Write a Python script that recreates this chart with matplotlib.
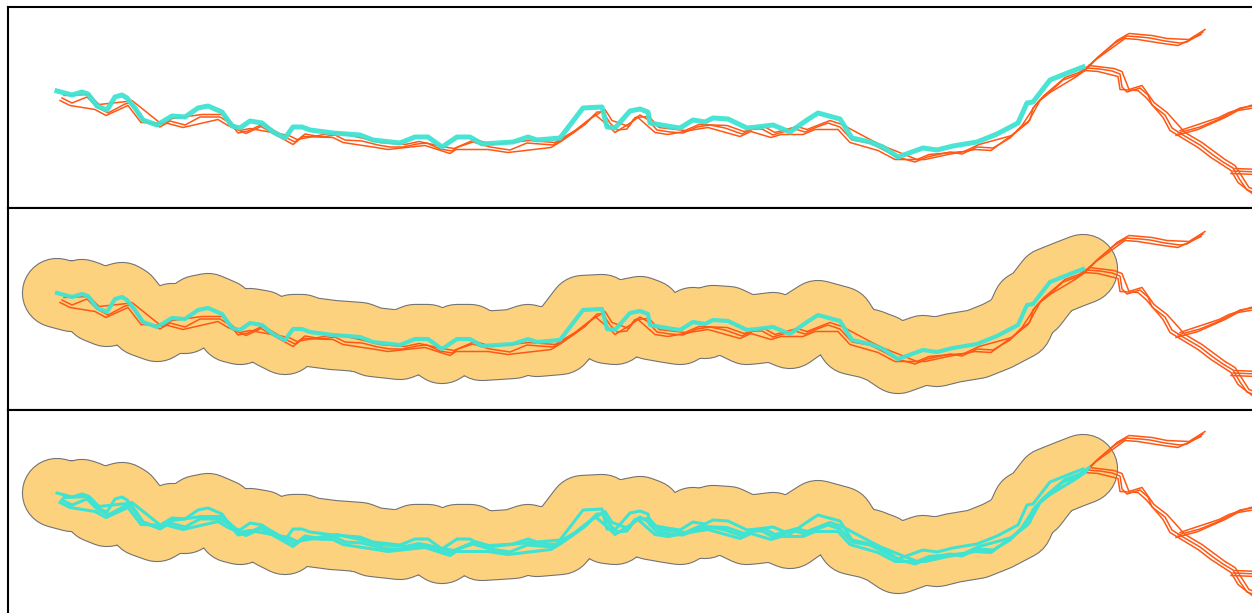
import matplotlib
matplotlib.use('Agg')
import matplotlib.pyplot as plt
import matplotlib.patheffects as pe

# GPS trajectory (cyan), in pixel units of the top panel
traj_x = [57, 72, 82, 88, 97, 107, 115, 122, 127, 135, 143, 157, 172, 185, 198, 208, 222, 232,
          240, 250, 262, 273, 285, 293, 302, 310, 333, 360, 373, 400, 415, 428, 442, 457, 470,
          482, 513, 528, 537, 560, 583, 602, 607, 615, 630, 640, 648, 650, 667, 680, 693, 705,
          713, 728, 747, 757, 773, 790, 807, 818, 840, 852, 870, 883, 898, 923, 937, 953, 977,
          997, 1018, 1027, 1033, 1050, 1070, 1083]
traj_y = [91, 95, 92, 94, 106, 110, 97, 95, 98, 108, 120, 125, 116, 117, 108, 106, 112, 126,
          128, 121, 123, 132, 138, 127, 127, 130, 133, 135, 140, 143, 137, 137, 147, 137, 137,
          144, 142, 137, 140, 138, 108, 107, 127, 128, 111, 109, 112, 123, 126, 128, 120, 122,
          118, 119, 128, 127, 125, 132, 120, 113, 119, 138, 142, 147, 157, 148, 150, 146, 142,
          134, 123, 103, 102, 80, 72, 67]

# road network (orange)
main_x = [62, 72, 87, 97, 108, 125, 130, 143, 160, 170, 185, 200, 220, 230, 238, 248, 263, 287,
          295, 305, 322, 335, 345, 362, 378, 390, 403, 417, 427, 440, 452, 458, 473, 490, 510,
          527, 553, 563, 573, 587, 597, 603, 610, 617, 627, 633, 640, 647, 657, 670, 683, 697,
          710, 725, 742, 753, 762, 773, 783, 795, 805, 817, 828, 840, 852, 870, 880, 897, 915,
          927, 950, 962, 977, 993, 1010, 1020, 1030, 1033, 1042, 1052, 1063, 1077, 1087]
main_y = [98, 103, 97, 107, 113, 104, 103, 120, 127, 121, 125, 117, 117, 123, 133, 131, 124, 138,
          142, 134, 137, 135, 140, 141, 145, 147, 147, 144, 143, 149, 151, 147, 142, 147, 150,
          143, 145, 139, 133, 122, 112, 112, 123, 130, 129, 120, 115, 119, 130, 132, 133, 127,
          125, 128, 134, 129, 129, 135, 132, 129, 132, 127, 123, 127, 140, 143, 148, 157, 162,
          157, 152, 154, 147, 148, 138, 128, 120, 108, 98, 90, 80, 75, 68]
ne_x = [1087, 1098, 1115, 1127, 1140, 1150, 1165, 1180, 1187, 1203]
ne_y = [68, 57, 43, 36, 37, 38, 41, 43, 42, 32]
se_x = [1087, 1100, 1112, 1120, 1122, 1127, 1140, 1148, 1152, 1165, 1172, 1183, 1200, 1213,
        1223, 1233, 1240, 1247, 1258]
se_y = [68, 69, 71, 74, 87, 92, 88, 95, 105, 115, 128, 135, 145, 155, 162, 168, 180, 190, 194]
east_x = [1178, 1200, 1217, 1227, 1240, 1258]
east_y = [133, 127, 120, 115, 108, 105]
spur_x = [1233, 1258]
spur_y = [171, 172]

CYAN = '#3FE3D2'
ORANGE = '#FF5714'
BUF_FILL = '#FDD27F'
BUF_EDGE = '#737373'
LANE_DX = [0, 2.0, -2.0]
LANE_DY = [0, -2.5, 2.5]

W, H = 1252, 613
fig = plt.figure(figsize=(W / 100, H / 100), dpi=100)

# (top px, bottom px, data offset) for each panel
panels = [(7, 208, 0), (208, 410, 202), (410, 616, 402)]
x_left, x_right = 8, 1262


def lanes(xs, ys):
    # three digitised copies of the same road, each with its own vertex subset
    n = len(xs)
    out = []
    for k in range(3):
        if k == 0:
            idx = list(range(n))
        else:
            idx = [j for j in range(n) if j % 3 != k or j in (0, n - 1)]
        out.append(([xs[j] + LANE_DX[k] for j in idx], [ys[j] + LANE_DY[k] for j in idx]))
    return out


branches = [(ne_x, ne_y), (se_x, se_y), (east_x, east_y), (spur_x, spur_y)]

for i, (top, bot, off) in enumerate(panels):
    ax = fig.add_axes([x_left / W, 1 - bot / H, (x_right - x_left) / W, (bot - top) / H])
    ax.set_xlim(x_left, x_right)
    ax.set_ylim(bot - off, top - off)
    ax.set_xticks([])
    ax.set_yticks([])
    for s in ax.spines.values():
        s.set_linewidth(1.5)
        s.set_color('black')

    if i > 0:
        # buffer around the trajectory
        ax.plot(traj_x, traj_y, color=BUF_FILL, lw=49, solid_capstyle='round',
                solid_joinstyle='round', zorder=1,
                path_effects=[pe.Stroke(linewidth=50.6, foreground=BUF_EDGE), pe.Normal()])

    for bx, by in branches:
        for lx, ly in lanes(bx, by):
            ax.plot(lx, ly, color=ORANGE, lw=1.1, zorder=2)

    if i < 2:
        for lx, ly in lanes(main_x, main_y):
            ax.plot(lx, ly, color=ORANGE, lw=1.1, zorder=2)
        ax.plot(traj_x, traj_y, color=CYAN, lw=3.6 if i == 0 else 3.0, alpha=0.95,
                solid_joinstyle='round', zorder=3)
    else:
        for lx, ly in lanes(main_x, main_y):
            ax.plot(lx, ly, color=CYAN, lw=2.2, solid_joinstyle='round', zorder=3)
        ax.plot(traj_x, traj_y, color=CYAN, lw=2.2, solid_joinstyle='round', zorder=3)

fig.savefig('out.png', dpi=100)
